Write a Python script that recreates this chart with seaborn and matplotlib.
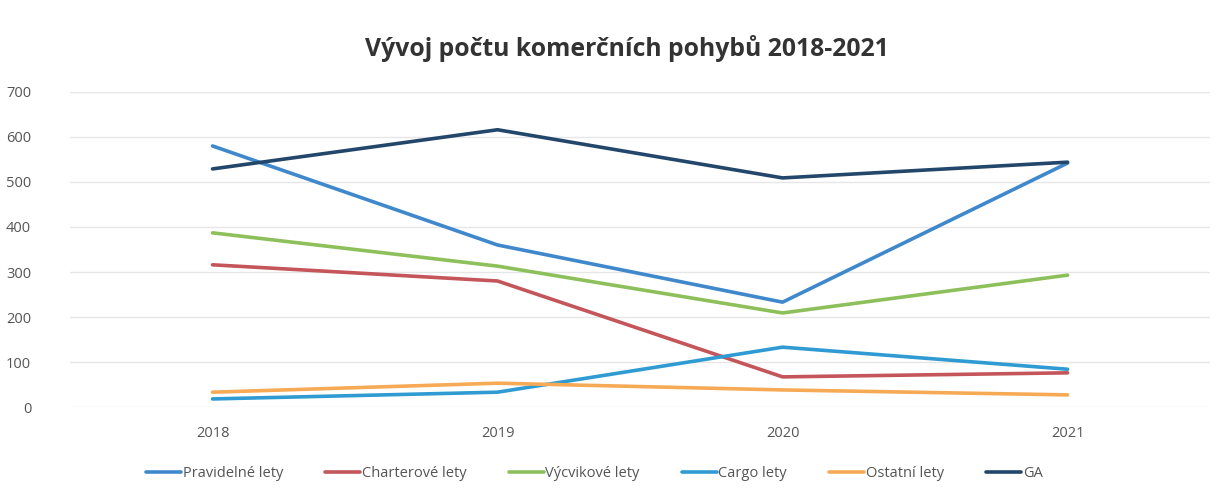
import pandas as pd
import seaborn as sns
from matplotlib import pyplot as plt

years = [2018, 2019, 2020, 2021]
pravidelne = [580, 360, 233, 542]
charterove = [316, 280, 67, 76]
vycvikove = [387, 313, 209, 293]
cargo = [18, 33, 133, 84]
ostatni = [33, 53, 38, 27]
ga = [529, 616, 509, 544]

series_names = ['Pravidelné lety', 'Charterové lety', 'Výcvikové lety', 'Cargo lety', 'Ostatní lety', 'GA']
colors = ['#3f88cc', '#c4555a', '#8dc05a', '#2f9bd2', '#f6aa55', '#23476b']

rows = []
for name, vals in zip(series_names, [pravidelne, charterove, vycvikove, cargo, ostatni, ga]):
    for y, v in zip(years, vals):
        rows.append({'Rok': y, 'Počet': v, 'Typ': name})
data = pd.DataFrame(rows)

sns.set_theme(style='white')
plt.rcParams['font.family'] = ['Open Sans', 'DejaVu Sans']

fig = plt.figure(figsize=(12.18, 4.97), dpi=100)
ax = fig.add_axes([0.0575, 0.181, 0.936, 0.634])

sns.lineplot(data=data, x='Rok', y='Počet', hue='Typ', palette=colors,
             linewidth=2.6, ax=ax, legend=True)

ax.set_xlim(2017.5, 2021.5)
ax.set_ylim(0, 700)
ax.set_xticks(years)
ax.set_xticklabels([str(y) for y in years])
ax.set_yticks(range(0, 701, 100))
ax.yaxis.grid(True, color='#e6e6e6', linewidth=1)
ax.set_axisbelow(True)
for s in ax.spines.values():
    s.set_visible(False)
ax.tick_params(axis='both', length=0, labelsize=10.5, colors='#555555')
ax.tick_params(axis='x', pad=14)
ax.tick_params(axis='y', pad=28)
ax.set_xlabel('')
ax.set_ylabel('')

fig.suptitle('Vývoj počtu komerčních pohybů 2018-2021', x=0.515, y=0.93,
             fontsize=17.8, fontweight='bold', color='#333333')

handles, labels = ax.get_legend_handles_labels()
ax.legend(handles, labels, loc='upper center', bbox_to_anchor=(0.46, -0.145),
          ncol=6, frameon=False, fontsize=10.5, handlelength=2.4,
          handletextpad=0.1, columnspacing=2.9, labelcolor='#555555')

fig.savefig('out.png', dpi=100)
